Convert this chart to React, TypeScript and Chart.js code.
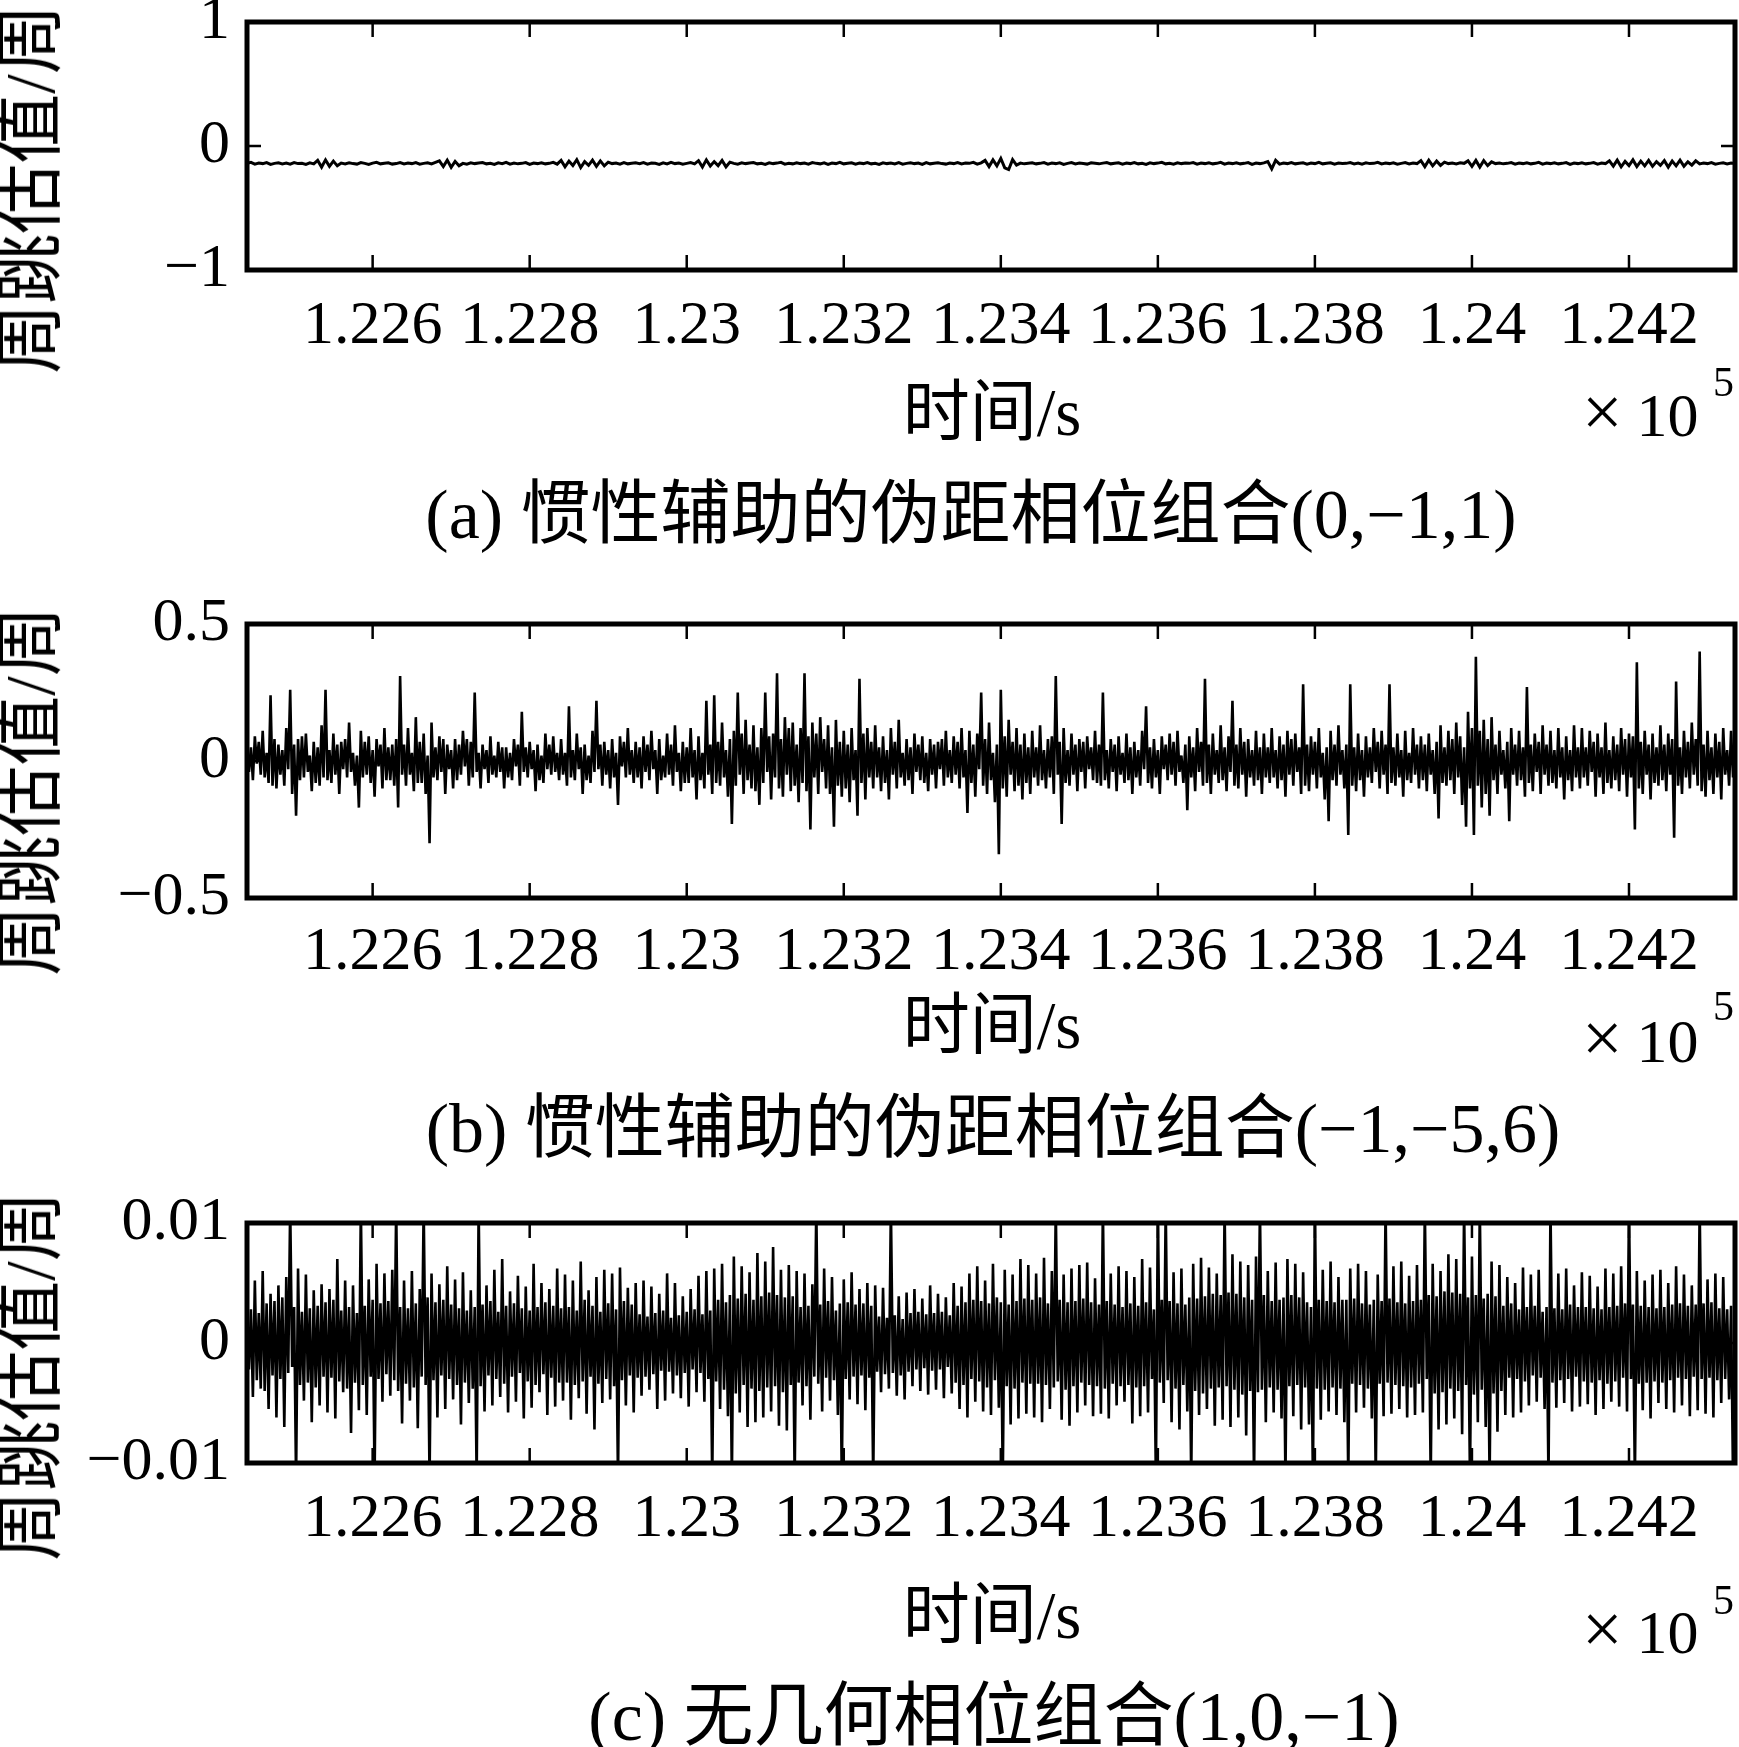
import { useEffect, useRef } from "react";
import { Chart, registerables } from "chart.js";

Chart.register(...registerables);

// ---- sampling of the time axis (s) ----
const T_START = 122440;
const T_STEP_A = 5;
const T_STEP_BC = 2.5;
const X_MIN = 122440;
const X_MAX = 124335;
const X_TICKS = [122600, 122800, 123000, 123200, 123400, 123600, 123800, 124000, 124200];
const X_TICK_LABELS = ["1.226", "1.228", "1.23", "1.232", "1.234", "1.236", "1.238", "1.24", "1.242"];

// ---- y ticks ----
const Y_TICKS_A = [-1, 0, 1];
const Y_LABELS_A = ["\u22121", "0", "1"];
const Y_TICKS_B = [-0.5, 0, 0.5];
const Y_LABELS_B = ["\u22120.5", "0", "0.5"];
const Y_TICKS_C = [-0.01, 0, 0.01];
const Y_LABELS_C = ["\u22120.01", "0", "0.01"];

// ---- series (a): values in 0.001 cycle, one every 5 s ----
const SERIES_A_MILLI = [
  -140, -132, -146, -138, -142, -134, -148, -140, -136, -144, -138, -146, -134, -142, -140, -148, -136, -144, -116, -170,
  -112, -164, -122, -160, -138, -144, -136, -142, -146, -134, -140, -148, -138, -132, -144, -140, -136, -146, -142, -134,
  -144, -138, -142, -134, -146, -140, -136, -144, -132, -120, -166, -114, -172, -124, -160, -140, -146, -136, -142, -138,
  -134, -144, -140, -148, -136, -142, -132, -146, -138, -144, -140, -134, -148, -138, -142, -136, -144, -140, -132, -146,
  -116, -168, -122, -158, -110, -174, -126, -156, -114, -164, -120, -160, -130, -142, -138, -146, -134, -144, -140, -136,
  -142, -134, -146, -138, -140, -148, -136, -144, -132, -142, -138, -146, -140, -134, -144, -118, -170, -112, -162, -126,
  -158, -116, -168, -130, -140, -146, -136, -142, -138, -134, -144, -140, -148, -136, -142, -138, -132, -146, -140, -144,
  -136, -142, -138, -146, -134, -140, -144, -136, -148, -138, -142, -132, -144, -140, -136, -146, -138, -142, -134, -144,
  -140, -148, -136, -142, -138, -144, -134, -146, -140, -136, -142, -138, -148, -134, -144, -140, -136, -142, -146, -138,
  -142, -134, -144, -138, -140, -132, -146, -136, -116, -166, -112, -160, -100, -176, -190, -110, -154, -138, -144, -140,
  -136, -144, -140, -134, -146, -138, -142, -136, -148, -140, -134, -144, -138, -142, -146, -136, -140, -144, -138, -134,
  -144, -140, -136, -146, -138, -142, -134, -144, -140, -148, -136, -142, -138, -132, -144, -140, -146, -136, -142, -138,
  -140, -134, -146, -138, -142, -136, -144, -140, -132, -146, -138, -142, -136, -144, -140, -134, -148, -138, -142, -136,
  -126, -184, -116, -146, -138, -142, -134, -144, -140, -136, -146, -138, -142, -132, -144, -140, -136, -146, -138, -142,
  -140, -134, -144, -138, -146, -136, -142, -140, -132, -144, -138, -142, -136, -146, -140, -134, -144, -138, -142, -118,
  -166, -114, -160, -122, -156, -130, -142, -138, -144, -136, -140, -120, -164, -116, -170, -118, -158, -128, -142, -138,
  -144, -140, -134, -146, -138, -142, -136, -144, -140, -132, -146, -138, -142, -136, -144, -140, -134, -148, -138, -142,
  -136, -144, -140, -134, -146, -138, -142, -120, -162, -114, -168, -124, -158, -112, -166, -122, -160, -116, -164, -126,
  -156, -118, -170, -122, -160, -114, -164, -128, -154, -120, -144, -138, -142, -134, -146, -140, -136, -144, -138, -142,
];

// ---- series (b): values in 0.01 cycle, one every 2.5 s ----
const SERIES_B_CENTI = [
  2, -4, 5, -7, 9, -1, 7, -5, 11, -6, 3, -8, 24, -9, 8, -10, 6, -5, 4, -9, 12, -3, 26, -12, 6, -20, 8, -7, 9, -6, 10, -4, 2, -11, 7, -8, 5, -9, 13, -6,
  26, -7, 4, -8, 10, -5, 6, -12, 7, -3, 8, -6, 14, -4, 3, -9, 2, -17, 11, -6, 7, -5, 9, -8, 4, -13, 8, -2, 6, -10, 12, -7, 5, -7, 6, -9, 8, -17, 31, -5,
  6, -9, 12, -5, 3, -11, 16, -8, 7, -8, 10, -12, 2, -30, 14, -6, 5, -7, 9, -4, 8, -12, 6, -3, 4, -10, 8, -7, 6, -5, 11, -2, 8, -9, 7, -6, 25, -4, 3, -10,
  6, -3, 4, -8, 9, -5, 2, -6, 7, -4, 5, -10, 5, -6, 3, -7, 8, -2, 6, -9, 18, -4, 5, -6, 7, -3, 4, -11, 6, -7, 2, -8, 10, -3, 6, -5, 9, -4, 3, -7,
  8, -5, 3, -9, 20, -6, 4, -7, 10, -3, 5, -12, 6, -7, 2, -8, 11, -4, 22, -3, 6, -9, 7, -5, 4, -10, 8, -6, 3, -16, 9, -2, 7, -6, 12, -5, 4, -8, 7, -6,
  5, -10, 9, -4, 6, -7, 11, -3, 4, -12, 8, -7, 2, -6, 10, -5, 6, -9, 13, -4, 3, -11, 7, -8, 5, -8, 12, -6, 4, -14, 9, -7, 3, -10, 22, -5, 6, -12, 24, -8,
  7, -9, 14, -6, 4, -13, 8, -23, 11, -9, 25, -5, 10, -12, 15, -7, 6, -10, 13, -11, 5, -16, 12, -8, 25, -4, 9, -14, 10, -6, 32, -10, 8, -13, 16, -5, 12, -11, 14, -9,
  6, -15, 12, -8, 32, -11, 9, -25, 14, -6, 10, -12, 16, -4, 8, -10, 13, -12, 5, -24, 15, -9, 7, -13, 11, -10, 6, -15, 12, -7, 4, -20, 30, -8, 10, -14, 12, -6, 7, -10,
  13, -6, 5, -11, 9, -8, 4, -14, 12, -5, 7, -10, 15, -6, 3, -9, 8, -7, 5, -12, 10, -4, 6, -7, 9, -8, 3, -11, 8, -5, 6, -10, 7, -3, 8, -9, 11, -6, 4, -8,
  9, -5, 7, -10, 12, -6, 4, -19, 11, -8, 6, -13, 10, -3, 25, -9, 8, -12, 14, -7, 3, -15, 6, -34, 26, -10, 9, -13, 15, -5, 7, -11, 12, -9, 6, -14, 10, -8, 5, -12,
  11, -6, 5, -9, 13, -7, 4, -10, 8, -6, 9, -12, 31, -5, 7, -23, 12, -8, 4, -9, 10, -5, 6, -11, 8, -4, 7, -10, 9, -3, 5, -7, 11, -8, 6, -9, 25, -7, 4, -10,
  8, -4, 6, -11, 9, -5, 3, -8, 10, -7, 5, -12, 7, -6, 4, -9, 11, -3, 20, -8, 5, -10, 8, -6, 4, -12, 9, -3, 6, -7, 10, -5, 7, -9, 11, -4, 2, -8, 6, -18,
  9, -6, 5, -11, 12, -4, 7, -9, 30, -8, 6, -12, 10, -5, 4, -8, 13, -7, 5, -11, 9, -4, 22, -9, 6, -10, 12, -5, 7, -13, 8, -6, 4, -9, 11, -7, 5, -12, 10, -6,
  5, -8, 12, -6, 4, -10, 9, -7, 6, -13, 11, -5, 8, -9, 10, -4, 5, -12, 28, -9, 6, -11, 9, -5, 7, -10, 12, -6, 3, -14, 5, -22, 11, -7, 6, -9, 13, -5, 4, -10,
  6, -27, 28, -9, 5, -11, 10, -7, 4, -13, 9, -6, 5, -8, 12, -4, 7, -10, 11, -5, 6, -12, 28, -8, 5, -9, 10, -6, 4, -13, 11, -7, 3, -8, 12, -5, 6, -10, 9, -7,
  6, -11, 10, -5, 4, -12, 7, -21, 13, -8, 5, -9, 11, -7, 8, -12, 14, -6, 9, -16, 5, -24, 18, -10, 12, -27, 38, -9, 11, -17, 15, -12, 8, -20, 16, -7, 6, -12, 11, -5,
  4, -10, 7, -22, 12, -5, 6, -9, 11, -7, 5, -13, 27, -8, 6, -11, 10, -4, 7, -12, 13, -5, 6, -9, 11, -8, 4, -10, 12, -6, 5, -14, 9, -7, 4, -11, 13, -6, 5, -10,
  12, -6, 5, -9, 11, -4, 7, -13, 10, -6, 5, -12, 14, -8, 4, -10, 9, -7, 6, -11, 12, -5, 8, -13, 10, -6, 9, -25, 36, -10, 7, -12, 11, -5, 6, -14, 10, -8, 5, -9,
  13, -7, 6, -11, 10, -5, 8, -28, 29, -9, 5, -12, 11, -6, 7, -10, 14, -5, 8, -9, 40, -11, 6, -13, 11, -7, 5, -12, 10, -6, 7, -14, 12, -5, 4, -9, 11, -6, 3, -7,
];

// ---- series (c): values in 0.0001 cycle, one every 2.5 s ----
const SERIES_C_1E4 = [
  30, -22, 28, -45, 52, -31, 25, -38, 60, -40, 33, -55, 41, -27, 35, -62, 48, -30, 38, -70, 55, -25, 115, -20, 30, -115, 62, -35, 26, -48, 57, -33, 29, -66, 44, -37, 31, -52, 49, -28,
  34, -58, 45, -29, 36, -63, 70, -32, 27, -41, 52, -38, 30, -75, 48, -33, 25, -56, 115, -35, 31, -60, 53, -28, 36, -115, 66, -30, 33, -49, 58, -26, 35, -44, 61, -31, 115, -40, 30, -67,
  52, -34, 29, -48, 60, -37, 33, -71, 45, -28, 115, -35, 38, -115, 58, -31, 34, -62, 49, -27, 36, -55, 64, -30, 32, -47, 53, -35, 29, -68, 59, -33, 27, -50, 44, -38, 30, -115, 115, -36,
  32, -57, 48, -27, 35, -52, 61, -30, 26, -45, 70, -34, 31, -58, 43, -28, 33, -49, 56, -25, 29, -63, 47, -32, 27, -54, 66, -35, 30, -41, 50, -26, 34, -60, 45, -29, 31, -53, 62, -33,
  29, -48, 57, -33, 30, -64, 52, -35, 27, -46, 68, -32, 36, -59, 44, -28, 31, -72, 55, -34, 26, -50, 61, -30, 33, -47, 58, -36, 28, -115, 63, -31, 35, -52, 46, -27, 32, -58, 50, -29,
  24, -44, 52, -28, 22, -39, 47, -26, 25, -55, 41, -23, 27, -48, 58, -24, 21, -42, 50, -27, 23, -46, 39, -25, 26, -53, 45, -22, 28, -41, 56, -25, 24, -49, 60, -30, 27, -115, 62, -32,
  36, -55, 66, -39, 34, -61, 40, -115, 72, -42, 37, -58, 64, -35, 41, -70, 59, -38, 36, -66, 75, -40, 39, -62, 68, -37, 42, -57, 80, -36, 40, -69, 61, -41, 38, -73, 65, -35, 39, -115,
  60, -33, 30, -52, 58, -36, 31, -64, 49, -28, 115, -34, 32, -57, 62, -29, 35, -48, 55, -31, 27, -60, 33, -115, 53, -30, 34, -47, 59, -28, 32, -51, 45, -27, 33, -56, 50, -29, 31, -115,
  48, -24, 22, -41, 46, -26, 21, -38, 115, -25, 23, -44, 39, -27, 20, -47, 42, -24, 25, -36, 45, -22, 26, -40, 37, -21, 24, -43, 48, -23, 25, -39, 41, -22, 26, -46, 38, -20, 23, -42,
  50, -33, 31, -55, 47, -35, 34, -62, 58, -30, 36, -49, 64, -32, 35, -57, 52, -37, 33, -60, 66, -31, 38, -54, 34, -115, 61, -36, 32, -68, 57, -38, 35, -63, 70, -33, 37, -59, 65, -34,
  36, -62, 58, -34, 38, -66, 71, -35, 33, -55, 60, -37, 115, -32, 36, -64, 57, -39, 34, -69, 62, -36, 35, -58, 65, -33, 37, -52, 67, -35, 34, -61, 54, -36, 32, -59, 115, -38, 35, -63,
  58, -34, 32, -52, 64, -36, 30, -49, 60, -35, 33, -67, 55, -37, 31, -61, 70, -36, 34, -58, 63, -30, 28, -115, 115, -33, 36, -50, 115, -31, 35, -66, 59, -38, 33, -72, 62, -35, 32, -57,
  38, -115, 66, -40, 37, -60, 71, -42, 39, -55, 63, -38, 41, -69, 58, -37, 40, -64, 115, -36, 42, -70, 74, -39, 41, -62, 68, -43, 38, -77, 65, -40, 36, -115, 72, -41, 115, -39, 40, -66,
  60, -37, 35, -58, 67, -39, 36, -63, 38, -115, 70, -36, 40, -61, 66, -35, 38, -72, 59, -37, 34, -68, 30, -115, 115, -38, 36, -64, 61, -39, 35, -57, 68, -37, 34, -60, 55, -38, 36, -66,
  36, -115, 62, -34, 37, -58, 66, -35, 33, -54, 60, -38, 32, -63, 36, -115, 57, -34, 35, -61, 115, -33, 37, -59, 64, -35, 34, -55, 68, -36, 33, -62, 56, -37, 35, -60, 65, -34, 36, -58,
  115, -30, 40, -115, 66, -42, 39, -72, 60, -41, 43, -68, 74, -38, 42, -63, 70, -40, 41, -76, 115, -35, 38, -115, 72, -43, 40, -66, 115, -39, 37, -70, 41, -115, 68, -42, 39, -74, 65, -40,
  31, -60, 55, -29, 33, -62, 50, -30, 28, -58, 63, -32, 30, -52, 57, -27, 31, -49, 61, -29, 26, -55, 30, -115, 115, -33, 29, -54, 58, -31, 28, -50, 62, -30, 32, -57, 48, -28, 30, -53,
  59, -32, 30, -51, 56, -33, 29, -60, 47, -31, 28, -55, 62, -34, 30, -49, 58, -32, 31, -53, 64, -29, 33, -57, 115, -30, 32, -115, 60, -34, 31, -56, 52, -33, 30, -63, 57, -32, 29, -50,
  61, -33, 30, -55, 50, -31, 32, -58, 64, -29, 33, -52, 57, -30, 31, -61, 48, -28, 32, -56, 115, -30, 33, -59, 53, -29, 34, -62, 58, -31, 29, -50, 55, -30, 28, -47, 31, -115, 42, -25,
];

const CAPTION_A = "(a) 惯性辅助的伪距相位组合(0,\u22121,1)";
const CAPTION_B = "(b) 惯性辅助的伪距相位组合(\u22121,\u22125,6)";
const CAPTION_C = "(c) 无几何相位组合(1,0,\u22121)";
const X_TITLE = "时间/s";
const Y_TITLE = "周跳估值/周";

const SERIF = "'Liberation Serif', 'Times New Roman', 'Noto Sans CJK SC', serif";
const PAGE_W = 1739;
const PAGE_H = 1747;
const AREA_LEFT = 247;
const AREA_RIGHT = 1735;

type PanelSpec = {
  values: number[];
  unit: number;
  step: number;
  lineWidth: number;
  yMin: number;
  yMax: number;
  yTicks: number[];
  yLabels: string[];
  canvasTop: number;
  canvasH: number;
  areaTop: number; // page coords
  areaBottom: number; // page coords
  xLabelPad: number;
};

const PANELS: PanelSpec[] = [
  { values: SERIES_A_MILLI, unit: 0.001, step: T_STEP_A, lineWidth: 3, yMin: -1, yMax: 1, yTicks: Y_TICKS_A, yLabels: Y_LABELS_A,
    canvasTop: 0, canvasH: 380, areaTop: 22, areaBottom: 270, xLabelPad: 12 },
  { values: SERIES_B_CENTI, unit: 0.01, step: T_STEP_BC, lineWidth: 2.6, yMin: -0.5, yMax: 0.5, yTicks: Y_TICKS_B, yLabels: Y_LABELS_B,
    canvasTop: 580, canvasH: 420, areaTop: 624, areaBottom: 898, xLabelPad: 10 },
  { values: SERIES_C_1E4, unit: 0.0001, step: T_STEP_BC, lineWidth: 2.6, yMin: -0.01, yMax: 0.01, yTicks: Y_TICKS_C, yLabels: Y_LABELS_C,
    canvasTop: 1180, canvasH: 400, areaTop: 1223, areaBottom: 1463, xLabelPad: 12 },
];

const framePlugin = {
  id: "frameTicks",
  afterDraw(chart: any) {
    const { ctx, chartArea: a, scales } = chart;
    const xs = scales.x;
    const ys = scales.y;
    ctx.save();
    ctx.strokeStyle = "#000";
    ctx.lineWidth = 2.5;
    ctx.beginPath();
    for (const t of xs.ticks) {
      const px = xs.getPixelForValue(t.value);
      ctx.moveTo(px, a.top);
      ctx.lineTo(px, a.top + 15);
      ctx.moveTo(px, a.bottom);
      ctx.lineTo(px, a.bottom - 15);
    }
    for (const t of ys.ticks) {
      const py = ys.getPixelForValue(t.value);
      ctx.moveTo(a.left, py);
      ctx.lineTo(a.left + 14, py);
      ctx.moveTo(a.right, py);
      ctx.lineTo(a.right - 14, py);
    }
    ctx.stroke();
    ctx.lineWidth = 5;
    ctx.strokeRect(a.left, a.top, a.right - a.left, a.bottom - a.top);
    ctx.restore();
  },
};

function PanelChart({ spec }: { spec: PanelSpec }) {
  const ref = useRef<HTMLCanvasElement | null>(null);
  useEffect(() => {
    if (!ref.current) return;
    const points = spec.values.map((v, i) => ({ x: T_START + i * spec.step, y: v * spec.unit }));
    const padTop = spec.areaTop - spec.canvasTop;
    const xAxisH = spec.canvasTop + spec.canvasH - spec.areaBottom;
    const chart = new Chart(ref.current, {
      type: "line",
      data: {
        datasets: [
          {
            data: points,
            borderColor: "#000",
            borderWidth: spec.lineWidth,
            borderJoinStyle: "miter",
            pointRadius: 0,
            tension: 0,
            fill: false,
          },
        ],
      },
      options: {
        animation: false,
        responsive: false,
        maintainAspectRatio: false,
        events: [],
        layout: { padding: { left: 0, right: PAGE_W - AREA_RIGHT, top: padTop, bottom: 0 } },
        plugins: { legend: { display: false }, tooltip: { enabled: false }, title: { display: false } },
        scales: {
          x: {
            type: "linear",
            min: X_MIN,
            max: X_MAX,
            grid: { display: false },
            border: { display: false },
            ticks: {
              color: "#000",
              font: { family: SERIF, size: 62 },
              padding: spec.xLabelPad,
              maxRotation: 0,
              minRotation: 0,
              autoSkip: false,
              callback: (value: any) => {
                const k = X_TICKS.indexOf(Number(value));
                return k >= 0 ? X_TICK_LABELS[k] : "";
              },
            },
            afterBuildTicks: (s: any) => {
              s.ticks = X_TICKS.map((v) => ({ value: v }));
            },
            afterFit: (s: any) => {
              s.height = xAxisH;
              s.paddingLeft = 0;
              s.paddingRight = 0;
            },
          },
          y: {
            type: "linear",
            min: spec.yMin,
            max: spec.yMax,
            grid: { display: false },
            border: { display: false },
            ticks: {
              color: "#000",
              font: { family: SERIF, size: 62 },
              padding: 9,
              autoSkip: false,
              callback: (value: any) => {
                const v = Number(value);
                const k = spec.yTicks.findIndex((t) => Math.abs(t - v) < 1e-9);
                return k >= 0 ? spec.yLabels[k] : "";
              },
            },
            afterBuildTicks: (s: any) => {
              s.ticks = spec.yTicks.map((v) => ({ value: v }));
            },
            afterFit: (s: any) => {
              s.width = AREA_LEFT;
              s.paddingTop = 0;
              s.paddingBottom = 0;
            },
          },
        },
      },
      plugins: [framePlugin],
    } as any);
    return () => chart.destroy();
  }, [spec]);
  return (
    <canvas
      ref={ref}
      width={PAGE_W}
      height={spec.canvasH}
      style={{ position: "absolute", left: 0, top: spec.canvasTop, width: PAGE_W, height: spec.canvasH }}
    />
  );
}

function Centered({ x, y, size, children, rotate }: { x: number; y: number; size: number; children: any; rotate?: boolean }) {
  return (
    <div
      style={{
        position: "absolute",
        left: x,
        top: y,
        transform: `translate(-50%, -50%)${rotate ? " rotate(-90deg)" : ""}`,
        fontFamily: SERIF,
        fontSize: size,
        lineHeight: 1,
        whiteSpace: "nowrap",
        color: "#000",
      }}
    >
      {children}
    </div>
  );
}

function Exponent({ left, y, y5 }: { left: number; y: number; y5: number }) {
  return (
    <>
      <div
        style={{
          position: "absolute",
          left,
          top: y,
          transform: "translateY(-50%)",
          fontFamily: SERIF,
          fontSize: 62,
          lineHeight: 1,
          whiteSpace: "nowrap",
          color: "#000",
        }}
      >
        <span style={{ fontSize: 72, marginRight: 14 }}>×</span>10
      </div>
      <div
        style={{
          position: "absolute",
          left: left + 131,
          top: y5,
          transform: "translateY(-50%)",
          fontFamily: SERIF,
          fontSize: 42,
          lineHeight: 1,
          color: "#000",
        }}
      >
        5
      </div>
    </>
  );
}

const TEXT_POS = [
  { yTitle: 189, xTitle: 412, exp: 412, exp5: 382, cap: 515, capX: 971, caption: CAPTION_A },
  { yTitle: 791, xTitle: 1025, exp: 1038, exp5: 1006, cap: 1129, capX: 993, caption: CAPTION_B },
  { yTitle: 1376, xTitle: 1615, exp: 1629, exp5: 1600, cap: 1717, capX: 994, caption: CAPTION_C },
];

export default function App() {
  return (
    <div
      style={{
        position: "absolute",
        left: 0,
        top: 0,
        width: PAGE_W,
        height: PAGE_H,
        overflow: "hidden",
        background: "#fff",
      }}
    >
      {PANELS.map((p, i) => (
        <PanelChart key={i} spec={p} />
      ))}
      {TEXT_POS.map((t, i) => (
        <div key={"t" + i}>
          <Centered x={31} y={t.yTitle} size={70} rotate>
            {Y_TITLE}
          </Centered>
          <Centered x={992} y={t.xTitle} size={67}>
            {X_TITLE}
          </Centered>
          <Exponent left={1582} y={t.exp} y5={t.exp5} />
          <Centered x={t.capX} y={t.cap} size={70}>
            {t.caption}
          </Centered>
        </div>
      ))}
    </div>
  );
}
